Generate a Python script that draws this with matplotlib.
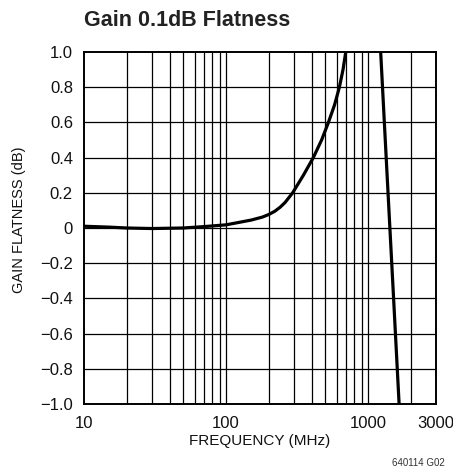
import matplotlib
matplotlib.use("Agg")
import matplotlib.pyplot as plt
from matplotlib.ticker import FixedLocator, NullLocator, NullFormatter

plt.rcParams['font.family'] = ['Liberation Sans', 'DejaVu Sans']

# Data
rise_freq = [10, 15, 20, 30, 50, 70, 100, 150, 180, 200, 220, 240, 260, 294, 350, 411, 470, 525, 580, 627, 665, 695]
rise_gain = [0.01, 0.005, 0.0, -0.003, 0.0, 0.008, 0.018, 0.045, 0.062, 0.077, 0.095, 0.118, 0.145, 0.2, 0.3, 0.4, 0.5, 0.6, 0.7, 0.8, 0.9, 1.0]
fall_freq = [1224, 1299, 1379, 1421, 1509, 1650]
fall_gain = [1.0, 0.6, 0.2, 0.0, -0.4, -1.0]

xticks = [10, 100, 1000, 3000]
xticklabels = ['10', '100', '1000', '3000']
yticks = [-1.0, -0.8, -0.6, -0.4, -0.2, 0, 0.2, 0.4, 0.6, 0.8, 1.0]
yticklabels = ['\u22121.0', '\u22120.8', '\u22120.6', '\u22120.4', '\u22120.2', '0', '0.2', '0.4', '0.6', '0.8', '1.0']
xgrid = [20, 30, 40, 50, 60, 70, 80, 90, 100, 200, 300, 400, 500, 600, 700, 800, 900, 1000, 2000]

W, H = 453, 467
fig = plt.figure(figsize=(W / 100, H / 100), dpi=100)
left, right, top, bottom = 84, 436, 52, 404
ax = fig.add_axes([left / W, 1 - bottom / H, (right - left) / W, (bottom - top) / H])

ax.set_xscale('log')
ax.set_xlim(10, 3000)
ax.set_ylim(-1.0, 1.0)

for xg in xgrid:
    ax.axvline(xg, color='black', lw=0.9, zorder=1)
for yg in yticks[1:-1]:
    ax.axhline(yg, color='black', lw=0.9, zorder=1)

ax.plot(rise_freq, rise_gain, color='black', lw=2.3, zorder=3, solid_capstyle='butt')
ax.plot(fall_freq, fall_gain, color='black', lw=2.3, zorder=3, solid_capstyle='butt')

ax.xaxis.set_major_locator(FixedLocator(xticks))
ax.xaxis.set_minor_locator(NullLocator())
ax.xaxis.set_minor_formatter(NullFormatter())
ax.set_xticklabels(xticklabels)
ax.set_yticks(yticks)
ax.set_yticklabels(yticklabels)
ax.tick_params(axis='both', length=0, labelsize=12, colors='#111111')
ax.tick_params(axis='x', pad=9)
ax.tick_params(axis='y', pad=8)

for s in ax.spines.values():
    s.set_linewidth(1.4)
    s.set_color('black')

ax.set_xlabel('FREQUENCY (MHz)', fontsize=11, labelpad=2, color='#111111')
fig.text(19 / W, 1 - 220 / H, 'GAIN FLATNESS (dB)', fontsize=10.5, rotation=90,
         ha='center', va='center', color='#111111')

fig.text(left / W, 1 - 20 / H, 'Gain 0.1dB Flatness', fontsize=15.5, fontweight='bold',
         ha='left', va='center', color='#222222')
fig.text(445 / W, 1 - 463 / H, '640114 G02', fontsize=7, ha='right', va='center', color='#333333')

fig.savefig('out.png', dpi=100)
